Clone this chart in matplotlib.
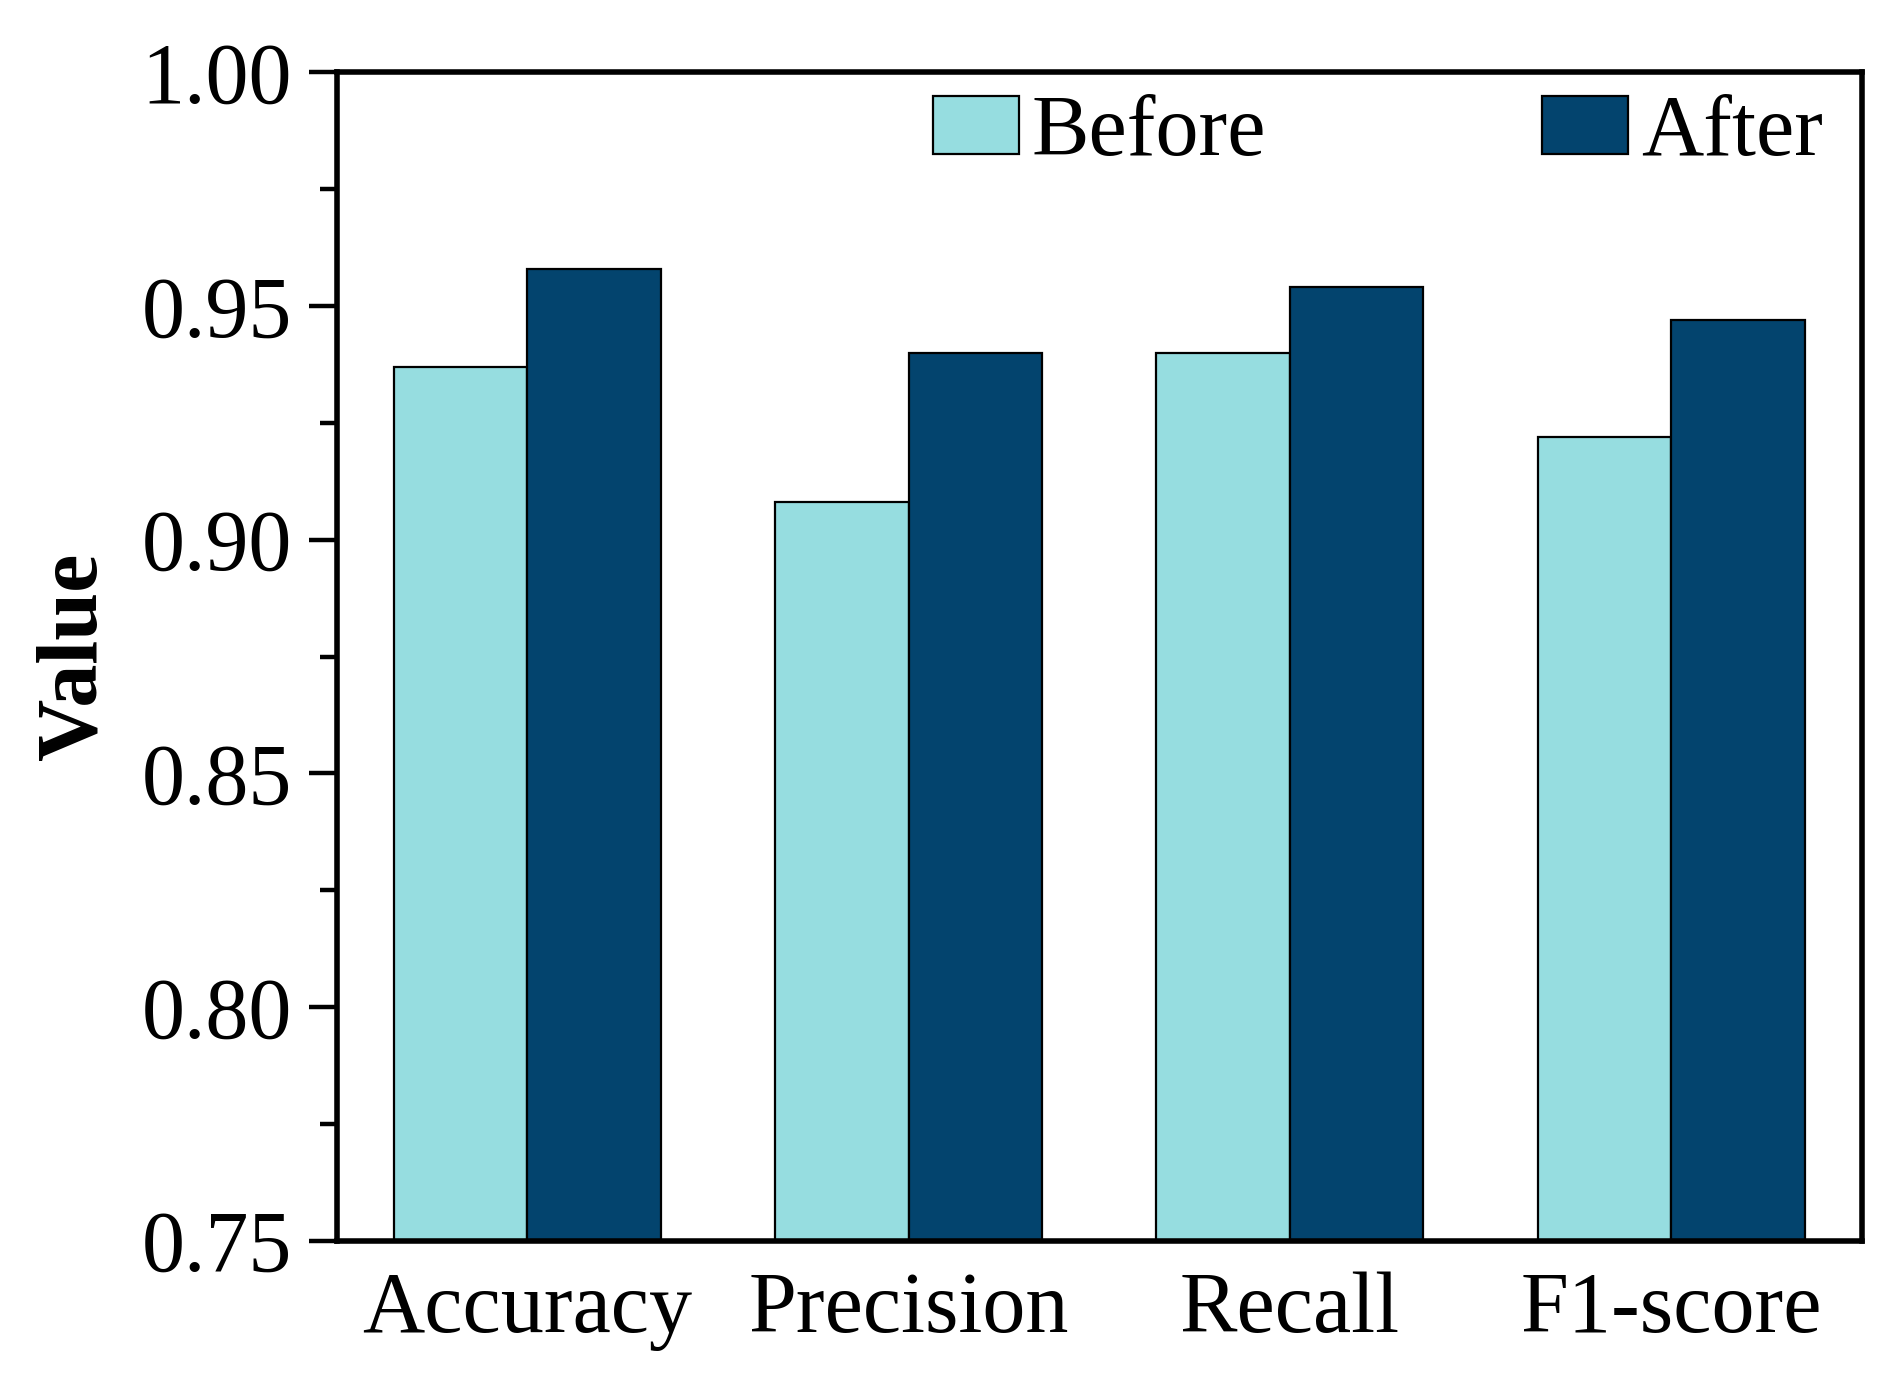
import matplotlib
matplotlib.use("Agg")
import matplotlib.pyplot as plt
import numpy as np
from matplotlib.ticker import MultipleLocator

categories = ["Accuracy", "Precision", "Recall", "F1-score"]
before = [0.937, 0.908, 0.940, 0.922]
after = [0.958, 0.940, 0.954, 0.947]

plt.rcParams['font.family'] = ['Liberation Serif', 'DejaVu Serif']

fig = plt.figure(figsize=(9.46, 6.94), dpi=200)
ax = fig.add_axes([0.178, 0.106, 0.806, 0.842])

x = np.arange(len(categories))
w = 0.35
ax.bar(x - w / 2, before, w, color='#96DDE0', edgecolor='black', linewidth=0.8, label='Before')
ax.bar(x + w / 2, after, w, color='#03446E', edgecolor='black', linewidth=0.8, label='After')

ax.set_xlim(-0.5, 3.5)
ax.set_ylim(0.75, 1.00)
ax.set_xticks(x)
ax.set_xticklabels(categories, fontsize=31)
ax.yaxis.set_major_locator(MultipleLocator(0.05))
ax.yaxis.set_minor_locator(MultipleLocator(0.025))
ax.set_yticklabels([f"{v:.2f}" for v in ax.get_yticks()], fontsize=31)
ax.tick_params(axis='x', length=0, pad=11)
ax.tick_params(axis='y', which='major', length=10, width=1.6, pad=6)
ax.tick_params(axis='y', which='minor', length=6, width=1.6)
for s in ax.spines.values():
    s.set_linewidth(2.0)

ax.set_ylabel('Value', fontsize=31, fontweight='bold', labelpad=10)

ax.legend(loc='upper right', ncol=2, frameon=False, fontsize=31,
          handlelength=1.0, handleheight=0.65, handletextpad=0.15,
          columnspacing=3.2, borderaxespad=0.0, bbox_to_anchor=(0.997, 1.01))

fig.savefig('out.png', dpi=200)
